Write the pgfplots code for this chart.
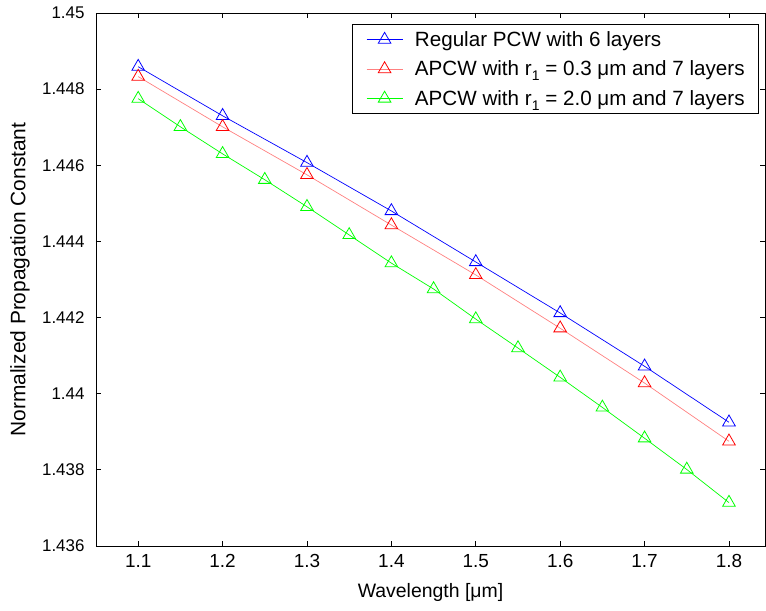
\documentclass[border=0pt]{standalone}
\usepackage{pgfplots}
\pgfplotsset{compat=1.18}
\usepackage{fontspec}
\setmainfont{Liberation Sans}
\begin{document}
\begin{tikzpicture}
\begin{axis}[
  scale only axis,
  width=669bp, height=533bp,
  xmin=1.05, xmax=1.8427,
  ymin=1.436, ymax=1.45,
  xtick={1.1,1.2,1.3,1.4,1.5,1.6,1.7,1.8},
  xticklabels={1.1,1.2,1.3,1.4,1.5,1.6,1.7,1.8},
  ytick={1.436,1.438,1.44,1.442,1.444,1.446,1.448,1.45},
  yticklabels={1.436,1.438,1.44,1.442,1.444,1.446,1.448,1.45},
  tick align=inside,
  major tick length=5bp,
  axis line style={line width=0.8pt},
  every tick/.style={black, line width=0.8pt},
  /pgf/number format/assume math mode=true,
  xticklabel style={font=\fontsize{19}{21}\selectfont, yshift=-5bp},
  yticklabel style={font=\fontsize{17}{19}\selectfont, xshift=-8bp},
  xlabel={Wavelength [μm]},
  ylabel={Normalized Propagation Constant},
  every axis x label/.style={at={(axis description cs:0.5,-0.0863)}, anchor=center, font=\fontsize{19.5}{22}\selectfont},
  every axis y label/.style={at={(axis description cs:-0.1136,0.5)}, rotate=90, anchor=center, font=\fontsize{21}{24}\selectfont},
  legend style={at={(axis description cs:1,1)}, anchor=north east, xshift=-6bp, yshift=-11bp,
    font=\fontsize{20.7}{23}\selectfont, draw=black, line width=0.8pt,
    inner xsep=14bp, inner ysep=7bp, nodes={inner sep=0pt},
    row sep=13bp},
  legend cell align=left,
  legend image code/.code={\draw[mark repeat=2,mark phase=2] plot coordinates {(0bp,0bp)(18bp,0bp)(36bp,0bp)}; \path (48bp,0bp);},
]
\addplot[color=blue, line width=0.7pt, mark=triangle, mark size=7.3pt, mark options={line width=0.8pt, blue, fill=none}]
coordinates {(1.1,1.44859)(1.2,1.44730)(1.3,1.44607)(1.4,1.44480)(1.5,1.44346)(1.6,1.44212)(1.7,1.44072)(1.8,1.43925)};
\addlegendentry{Regular PCW with 6 layers}
\addplot[color=red!50, line width=0.7pt, mark=triangle, mark size=7.3pt, mark options={line width=0.8pt, draw=red, fill=none}]
coordinates {(1.1,1.44833)(1.2,1.44701)(1.3,1.44575)(1.4,1.44443)(1.5,1.44312)(1.6,1.44172)(1.7,1.44028)(1.8,1.43875)};
\addlegendentry{APCW with r\raisebox{-0.45ex}{\fontsize{14}{14}\selectfont 1} = 0.3 μm and 7 layers}
\addplot[color=green, line width=0.7pt, mark=triangle, mark size=7.3pt, mark options={line width=0.8pt, green, fill=none}]
coordinates {(1.1,1.44775)(1.15,1.44701)(1.2,1.44630)(1.25,1.44562)(1.3,1.44491)(1.35,1.44417)(1.4,1.44343)(1.45,1.44275)(1.5,1.44196)(1.55,1.44120)(1.6,1.44043)(1.65,1.43964)(1.7,1.43883)(1.75,1.43801)(1.8,1.43714)};
\addlegendentry{APCW with r\raisebox{-0.45ex}{\fontsize{14}{14}\selectfont 1} = 2.0 μm and 7 layers}
\end{axis}
\pgfresetboundingbox
\path[use as bounding box] ([shift={(-96bp,-65bp)}]current axis.south west) rectangle ([shift={(1bp,13bp)}]current axis.north east);
\end{tikzpicture}
\end{document}
